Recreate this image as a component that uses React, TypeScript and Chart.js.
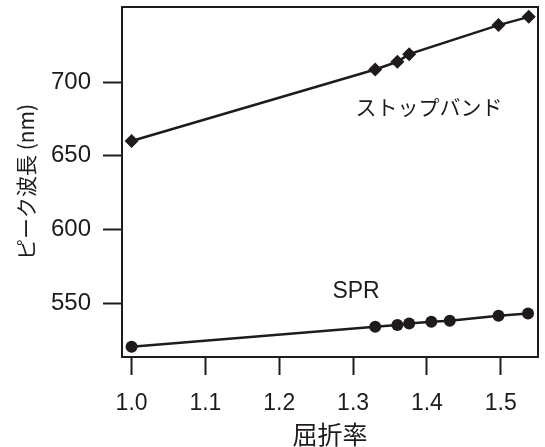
import React, { useEffect, useRef } from "react";
import { Chart, registerables } from "chart.js";

Chart.register(...registerables);

const xTickValues = [1.0, 1.1, 1.2, 1.3, 1.4, 1.5];
const yTickValues = [550, 600, 650, 700];

const stopbandX = [1.0, 1.33, 1.36, 1.376, 1.497, 1.538];
const stopbandY = [660, 708.6, 713.8, 719, 738.7, 744.3];

const sprX = [1.0, 1.33, 1.36, 1.376, 1.406, 1.431, 1.497, 1.537];
const sprY = [520.4, 533.9, 535.1, 536.2, 537.3, 538.0, 541.4, 543.0];

const xTitle = "屈折率";
const yTitle = "ピーク波長 (nm)";
const stopbandLabel = "ストップバンド";
const sprLabel = "SPR";

const INK = "#1f1b1c";
const JP = "'Noto Sans CJK JP', 'Noto Sans', sans-serif";
const LAT = "'Liberation Sans', Arial, sans-serif";

const boxPlugin = {
  id: "box",
  afterDraw(chart: any) {
    const { ctx, chartArea } = chart;
    ctx.save();
    ctx.strokeStyle = INK;
    ctx.lineWidth = 2;
    ctx.strokeRect(chartArea.left, chartArea.top, chartArea.right - chartArea.left, chartArea.bottom - chartArea.top);
    ctx.restore();
  },
};

const labelPlugin = {
  id: "labels",
  afterDatasetsDraw(chart: any) {
    const { ctx, scales } = chart;
    const x = scales.x;
    const y = scales.y;
    ctx.save();
    ctx.fillStyle = INK;
    ctx.textAlign = "center";
    ctx.textBaseline = "middle";
    ctx.font = `21px ${JP}`;
    ctx.fillText(stopbandLabel, x.getPixelForValue(1.403), y.getPixelForValue(683));
    ctx.font = `23px ${LAT}`;
    ctx.fillText(sprLabel, x.getPixelForValue(1.304), y.getPixelForValue(557.8));
    ctx.restore();
  },
};

export default function App() {
  const ref = useRef<HTMLCanvasElement>(null);
  useEffect(() => {
    if (!ref.current) return;
    const chart = new Chart(ref.current, {
      type: "scatter",
      data: {
        datasets: [
          {
            label: stopbandLabel,
            data: stopbandX.map((v, i) => ({ x: v, y: stopbandY[i] })),
            showLine: true,
            borderColor: INK,
            backgroundColor: INK,
            borderWidth: 2.5,
            pointStyle: "rectRot",
            pointRadius: 7,
            pointBorderWidth: 0,
          },
          {
            label: sprLabel,
            data: sprX.map((v, i) => ({ x: v, y: sprY[i] })),
            showLine: true,
            borderColor: INK,
            backgroundColor: INK,
            borderWidth: 2.5,
            pointStyle: "circle",
            pointRadius: 6,
            pointBorderWidth: 0,
          },
        ],
      },
      options: {
        animation: false,
        responsive: false,
        layout: { padding: { top: 7, right: 4, left: 0, bottom: 0 } },
        plugins: { legend: { display: false }, tooltip: { enabled: false } },
        scales: {
          x: {
            type: "linear",
            min: 0.987,
            max: 1.5505,
            afterBuildTicks: (s: any) => {
              s.ticks = xTickValues.map((v) => ({ value: v }));
            },
            afterFit: (s: any) => {
              s.height = 90;
              s.paddingLeft = 0;
              s.paddingRight = 0;
            },
            grid: { drawOnChartArea: false, drawTicks: true, tickLength: 18, tickWidth: 2, tickColor: INK },
            border: { display: false },
            ticks: {
              color: INK,
              font: { family: LAT, size: 23 },
              padding: 15,
              maxRotation: 0,
              autoSkip: false,
              callback: (v: any) => Number(v).toFixed(1),
            },
            title: {
              display: true,
              text: xTitle,
              color: INK,
              font: { family: JP, size: 25, lineHeight: 1 },
              padding: 0,
            },
          },
          y: {
            type: "linear",
            min: 513.4,
            max: 751,
            afterBuildTicks: (s: any) => {
              s.ticks = yTickValues.map((v) => ({ value: v }));
            },
            afterFit: (s: any) => {
              s.width = 122;
              s.paddingTop = 0;
              s.paddingBottom = 0;
            },
            grid: { drawOnChartArea: false, drawTicks: true, tickLength: 19, tickWidth: 2, tickColor: INK },
            border: { display: false },
            ticks: {
              color: INK,
              font: { family: LAT, size: 24 },
              padding: 12,
              autoSkip: false,
              callback: (v: any) => String(v),
            },
            title: {
              display: true,
              text: yTitle,
              color: INK,
              font: { family: JP, size: 21, lineHeight: 1 },
              padding: { top: 16, bottom: 0 },
            },
          },
        },
      },
      plugins: [boxPlugin, labelPlugin],
    });
    return () => chart.destroy();
  }, []);
  return (
    <div style={{ position: "absolute", left: 0, top: 0, width: 545, height: 447, background: "#fff" }}>
      <canvas ref={ref} width={545} height={447} />
    </div>
  );
}
